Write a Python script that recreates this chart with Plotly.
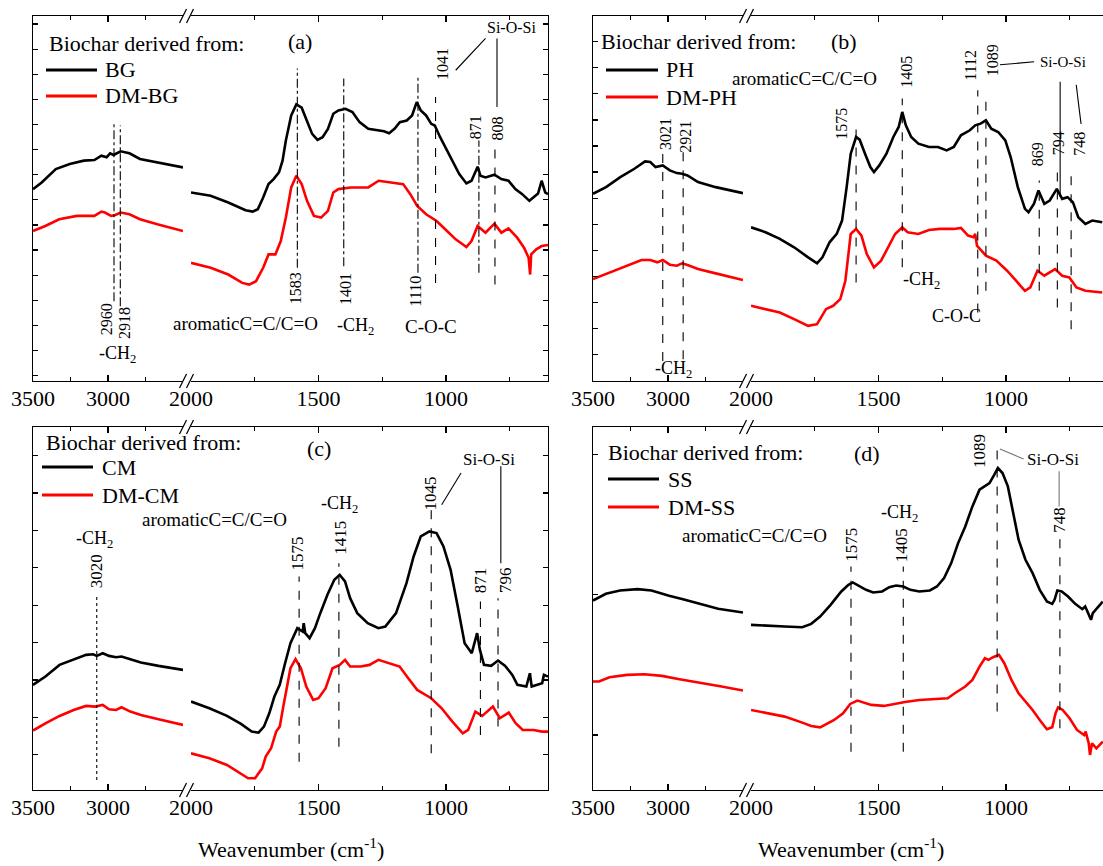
import plotly.graph_objects as go

# ---------------- data: wavenumber (cm-1) and intensity (arbitrary units) ----------------
# Panel (a)
a_bg_wn = [3500, 3442, 3348, 3255, 3161, 3091, 3044, 3009, 2986, 2963, 2916, 2857, 2787, 2671, 2500,
           2000, 1923, 1854, 1786, 1758, 1738, 1717, 1696, 1676, 1655, 1641, 1628, 1607, 1587, 1566, 1545,
           1525, 1504, 1484, 1463, 1442, 1422, 1394, 1367, 1339, 1305, 1271, 1243, 1223, 1202, 1181, 1154,
           1133, 1115, 1099, 1078, 1058, 1044, 1023, 1003, 975, 948, 920, 900, 876, 865, 845, 810, 783,
           755, 728, 701, 673, 659, 639, 625, 611, 600]
a_bg_abs = [573, 593, 633, 648, 658, 660, 673, 668, 680, 675, 686, 680, 663, 653, 638,
            563, 553, 533, 510, 506, 513, 548, 588, 603, 623, 658, 718, 793, 826, 816, 778,
            738, 720, 728, 753, 798, 808, 813, 803, 773, 753, 748, 746, 740, 753, 773, 778,
            793, 833, 808, 793, 768, 763, 728, 698, 658, 618, 590, 598, 640, 613, 608, 616, 603,
            598, 573, 558, 538, 548, 560, 598, 563, 558]
a_dmbg_wn = [3500, 3418, 3325, 3208, 3091, 3044, 3021, 2979, 2951, 2916, 2857, 2787, 2671, 2500,
             2000, 1923, 1854, 1799, 1772, 1745, 1717, 1696, 1669, 1648, 1628, 1607, 1587, 1566, 1545,
             1518, 1490, 1463, 1442, 1422, 1374, 1305, 1264, 1209, 1168, 1140, 1113, 1078, 1037, 996,
             962, 920, 900, 876, 845, 810, 783, 755, 721, 694, 676, 670, 666, 646, 625, 600]
a_dmbg_abs = [448, 463, 483, 493, 493, 506, 503, 493, 496, 503, 498, 483, 468, 448,
              353, 338, 318, 293, 288, 298, 338, 378, 378, 418, 488, 578, 613, 588, 538,
              493, 488, 508, 563, 573, 578, 578, 598, 593, 588, 558, 523, 498, 478, 448,
              423, 400, 418, 463, 443, 470, 443, 456, 428, 398, 368, 318, 378, 393, 403, 406]

# Panel (b)
b_ph_wn = [3500, 3413, 3318, 3224, 3153, 3118, 3083, 3035, 2988, 2941, 2906, 2870, 2800, 2682, 2500,
           2000, 1943, 1887, 1831, 1776, 1741, 1720, 1692, 1664, 1643, 1625, 1609, 1588, 1574, 1553,
           1532, 1518, 1497, 1469, 1442, 1421, 1407, 1393, 1372, 1344, 1302, 1267, 1233, 1205, 1177,
           1142, 1121, 1100, 1079, 1058, 1031, 1003, 982, 954, 926, 912, 891, 873, 850, 829, 801,
           780, 759, 738, 717, 689, 662, 623]
b_ph_abs = [560, 580, 610, 635, 657, 655, 640, 645, 630, 622, 620, 615, 595, 580, 562,
            460, 445, 425, 400, 370, 352, 370, 415, 440, 480, 580, 680, 730, 722, 680,
            640, 625, 645, 680, 730, 760, 805, 765, 730, 710, 700, 700, 690, 700, 735,
            750, 765, 770, 780, 755, 745, 720, 670, 580, 515, 505, 530, 570, 530, 540, 575,
            545, 550, 535, 490, 470, 480, 475]
b_dmph_wn = [3500, 3389, 3271, 3177, 3118, 3071, 3035, 2988, 2941, 2906, 2870, 2800, 2682, 2500,
             2000, 1943, 1887, 1831, 1776, 1741, 1706, 1678, 1650, 1630, 1609, 1588, 1567, 1546,
             1518, 1490, 1462, 1435, 1407, 1386, 1344, 1302, 1260, 1205, 1177, 1149, 1128, 1121,
             1114, 1079, 1038, 996, 961, 926, 905, 877, 850, 808, 780, 752, 724, 689, 623]
b_dmph_abs = [305, 325, 345, 362, 362, 355, 362, 348, 345, 352, 347, 335, 322, 302,
              225, 215, 205, 185, 165, 170, 215, 225, 245, 300, 440, 455, 435, 380,
              340, 360, 400, 440, 460, 445, 440, 452, 455, 455, 458, 435, 430, 440,
              405, 375, 360, 330, 300, 270, 280, 330, 315, 335, 315, 310, 280, 270, 265]

# Panel (c)
c_cm_wn = [3500, 3417, 3323, 3229, 3146, 3099, 3075, 3035, 2993, 2946, 2910, 2851, 2781, 2663, 2500,
           2000, 1928, 1859, 1804, 1762, 1735, 1714, 1693, 1673, 1652, 1631, 1610, 1583, 1562, 1558,
           1552, 1535, 1514, 1493, 1465, 1438, 1417, 1396, 1376, 1348, 1307, 1265, 1238, 1196, 1155,
           1127, 1099, 1065, 1037, 1010, 982, 954, 927, 899, 878, 867, 851, 823, 796, 768, 740, 720,
           685, 671, 664, 623, 616, 600]
c_cm_abs = [315, 340, 375, 392, 405, 407, 402, 410, 402, 398, 400, 392, 382, 372, 360,
            265, 245, 222, 198, 175, 172, 190, 230, 280, 315, 380, 440, 485, 475, 500,
            470, 455, 485, 530, 585, 630, 645, 625, 575, 530, 500, 485, 490, 530, 620,
            700, 760, 775, 770, 730, 660, 550, 440, 410, 470, 420, 375, 372, 388, 372, 345, 315,
            310, 350, 310, 320, 345, 340]
c_dmcm_wn = [3500, 3417, 3323, 3229, 3146, 3087, 3035, 2993, 2946, 2910, 2851, 2781, 2663, 2500,
             2000, 1928, 1859, 1804, 1776, 1749, 1721, 1707, 1686, 1666, 1652, 1638, 1624, 1610,
             1590, 1569, 1548, 1521, 1500, 1472, 1445, 1417, 1396, 1376, 1334, 1300, 1265, 1224,
             1182, 1148, 1113, 1058, 1017, 975, 934, 913, 885, 858, 816, 789, 754, 727, 699, 657,
             623, 600]
c_dmcm_abs = [178, 200, 222, 240, 252, 250, 255, 242, 240, 248, 235, 225, 212, 195,
              110, 95, 75, 50, 35, 35, 65, 100, 125, 175, 190, 250, 310, 365,
              392, 365, 310, 270, 275, 305, 365, 375, 390, 370, 370, 375, 390, 380,
              370, 335, 300, 275, 245, 205, 170, 180, 235, 222, 250, 215, 232, 200, 180, 180,
              175, 175]

# Panel (d)
d_ss_wn = [3500, 3414, 3320, 3203, 3110, 2993, 2900, 2783, 2666, 2500,
           2000, 1938, 1868, 1799, 1764, 1729, 1688, 1646, 1618, 1601, 1576, 1549, 1521, 1486,
           1458, 1431, 1403, 1375, 1340, 1299, 1271, 1243, 1215, 1188, 1160, 1132, 1104, 1083,
           1065, 1046, 1032, 1014, 993, 972, 951, 924, 896, 868, 840, 819, 810, 799, 782, 757,
           729, 701, 690, 681, 667, 660, 639, 621]
d_ss_abs = [568, 588, 598, 602, 598, 582, 572, 557, 543, 532,
            495, 492, 490, 488, 498, 520, 555, 595, 615, 622, 612, 600, 592, 595,
            608, 613, 610, 600, 595, 598, 610, 635, 680, 740, 790, 850, 900, 912,
            920, 945, 965, 950, 910, 830, 750, 690, 650, 600, 565, 558, 570, 598, 595, 580,
            558, 542, 550, 535, 510, 530, 550, 565]
d_dmss_wn = [3500, 3460, 3390, 3273, 3157, 3040, 2923, 2783, 2643, 2500,
             2000, 1938, 1868, 1799, 1764, 1729, 1701, 1674, 1639, 1611, 1583, 1556, 1528, 1479,
             1438, 1396, 1340, 1285, 1229, 1201, 1174, 1160, 1132, 1104, 1083, 1069, 1051, 1028,
             1007, 979, 951, 924, 896, 868, 840, 819, 806, 796, 778, 751, 722, 694, 688, 676,
             671, 663, 646, 621]
d_dmss_abs = [325, 325, 338, 345, 347, 342, 332, 320, 310, 298,
              240, 230, 220, 202, 192, 188, 200, 210, 230, 258, 268, 262, 255, 252,
              258, 264, 270, 272, 275, 290, 305, 310, 330, 370, 395, 390, 398, 405,
              380, 330, 290, 265, 240, 210, 182, 188, 230, 248, 240, 215, 180, 165, 175, 140,
              105, 140, 125, 145]

# Peak marker lines: wavenumber, lower end, upper end, dash style
a_mark_wn = [2960, 2918, 1583, 1401, 1110, 1041, 871, 808]
a_mark_lo = [238, 223, 338, 343, 323, 293, 323, 288]
a_mark_hi = [768, 763, 933, 903, 908, 848, 718, 698]
a_mark_dash = ["dashdot", "dashdot", "dashdot", "dashdot", "dashdot", "dash", "dashdot", "dash"]

b_mark_wn = [3035, 2899, 1588, 1407, 1111, 1079, 870, 799, 745]
b_mark_lo = [60, 65, 295, 340, 205, 270, 270, 220, 155]
b_mark_hi = [690, 685, 765, 845, 870, 850, 600, 635, 620]
b_mark_dash = ["dash"] * 9

c_mark_wn = [3075, 1576, 1420, 1058, 865, 796]
c_mark_lo = [30, 85, 130, 110, 165, 190]
c_mark_hi = [580, 640, 680, 840, 565, 575]
c_mark_dash = ["dot", "dash", "dash", "dash", "dash", "dash"]

d_mark_wn = [1608, 1403, 1035, 789]
d_mark_lo = [115, 115, 235, 185]
d_mark_hi = [670, 670, 1030, 760]
d_mark_dash = ["dash"] * 4

# Si-O-Si leader lines: (wn0, wn1, y0, y1)
a_lead = [(962, 845, 928, 1023), (800, 800, 818, 1023)]
b_lead = [(1024, 890, 946, 955), (788, 788, 551, 895), (725, 706, 886, 769)]
c_lead = [(1017, 941, 855, 950), (785, 785, 680, 970)]
d_lead = [(1024, 931, 1022, 992), (792, 792, 850, 955)]

# Labels: text, wavenumber, y, angle, font size
CH2 = "-CH<sub>2</sub>"
ARO = "aromaticC=C/C=O"
a_labels = [("2960", 3009, 183, -90, 16), ("2918", 2893, 173, -90, 16), (CH2, 2939, 78, 0, 18),
            ("1583", 1587, 278, -90, 16), ("1401", 1394, 273, -90, 16), ("1110", 1120, 268, -90, 16),
            (ARO, 1786, 173, 0, 19), (CH2, 1353, 163, 0, 18), ("C-O-C", 1060, 163, 0, 19),
            ("1041", 1014, 948, -90, 16), ("871", 886, 758, -90, 16), ("808", 797, 753, -90, 16),
            ("Si-O-Si", 745, 1056, 0, 16)]
b_labels = [("3021", 3017, 740, -90, 16), ("2921", 2882, 730, -90, 16), (CH2, 2965, 35, 0, 18),
            ("1575", 1643, 770, -90, 16), (ARO, 1790, 905, 0, 19), ("1405", 1389, 925, -90, 16),
            ("1112", 1139, 945, -90, 16), ("1089", 1053, 958, -90, 16), (CH2, 1330, 300, 0, 18),
            ("C-O-C", 1194, 195, 0, 18), ("869", 877, 680, -90, 16), ("794", 794, 710, -90, 16),
            ("748", 710, 710, -90, 16), ("Si-O-Si", 776, 955, 0, 15)]
c_labels = [(CH2, 3092, 750, 0, 18), ("3020", 3075, 655, -90, 17),
            (ARO, 1907, 810, 0, 19), (CH2, 1417, 855, 0, 18),
            ("1575", 1583, 710, -90, 17), ("1415", 1417, 755, -90, 17), ("1045", 1061, 890, -90, 17),
            ("Si-O-Si", 830, 990, 0, 17), ("871", 865, 630, -90, 17), ("796", 764, 630, -90, 17)]
d_labels = [(ARO, 1986, 762, 0, 19), (CH2, 1417, 830, 0, 18),
            ("1575", 1604, 735, -90, 17), ("1405", 1410, 735, -90, 17),
            ("1089", 1104, 1015, -90, 17), ("Si-O-Si", 815, 992, 0, 17), ("748", 789, 810, -90, 17)]

left_ticks = [3500, 3000]
left_minor = [3250, 2750]
right_ticks = [2000, 1500, 1000]
right_minor = [1750, 1250, 750]

# ---------------- layout geometry (pixels of the 1103 x 866 page) ----------------
FW, FH = 1103, 866
def px(x):
    return x / FW
def py(y):
    return 1 - y / FH

FONT = '"Liberation Serif", "Times New Roman", Times, "DejaVu Serif", serif'

panels = [
    dict(L=33, top=16, bot=381, ymax=1090, rend=600, rframe=True, tick0=16, dtick=75,
         series=[(a_bg_wn, a_bg_abs, "BG", "#000000"), (a_dmbg_wn, a_dmbg_abs, "DM-BG", "#ff0000")],
         marks=(a_mark_wn, a_mark_lo, a_mark_hi, a_mark_dash), lead=a_lead, labels=a_labels,
         leg=(47, 46, 97, 103, 43, 70, 96), tag="(a)", tagxy=(300, 42), title=False, leadcol="#000000"),
    dict(L=593, top=16, bot=381, ymax=1092, rend=620, rframe=False, tick0=1, dtick=78,
         series=[(b_ph_wn, b_ph_abs, "PH", "#000000"), (b_dmph_wn, b_dmph_abs, "DM-PH", "#ff0000")],
         marks=(b_mark_wn, b_mark_lo, b_mark_hi, b_mark_dash), lead=b_lead, labels=b_labels,
         leg=(599, 606, 658, 664, 42, 70, 97), tag="(b)", tagxy=(844, 42), title=False, leadcol="#000000"),
    dict(L=33, top=427, bot=790, ymax=1088, rend=600, rframe=True, tick0=106, dtick=112,
         series=[(c_cm_wn, c_cm_abs, "CM", "#000000"), (c_dmcm_wn, c_dmcm_abs, "DM-CM", "#ff0000")],
         marks=(c_mark_wn, c_mark_lo, c_mark_hi, c_mark_dash), lead=c_lead, labels=c_labels,
         leg=(44, 42, 93, 100, 443, 467, 495), tag="(c)", tagxy=(319, 449), title=True, leadcol="#000000"),
    dict(L=593, top=427, bot=790, ymax=1088, rend=620, rframe=False, tick0=165, dtick=420,
         series=[(d_ss_wn, d_ss_abs, "SS", "#000000"), (d_dmss_wn, d_dmss_abs, "DM-SS", "#ff0000")],
         marks=(d_mark_wn, d_mark_lo, d_mark_hi, d_mark_dash), lead=d_lead, labels=d_labels,
         leg=(606, 608, 659, 666, 452, 479, 507), tag="(d)", tagxy=(867, 453), title=True, leadcol="#777777"),
]

fig = go.Figure()
layout = {}
shapes = []
annotations = []

def axname(kind, n):
    return f"{kind}axis" if n == 1 else f"{kind}axis{n}"

def axref(kind, n):
    return kind if n == 1 else f"{kind}{n}"

for i, p in enumerate(panels):
    nL, nR = 2 * i + 1, 2 * i + 2
    xL, xR = axref("x", nL), axref("x", nR)
    yL, yR = axref("y", nL), axref("y", nR)
    L = p["L"]
    dom_y = [py(p["bot"]), py(p["top"])]
    domL = [px(L), px(L + 150)]
    domR = [px(L + 158), min(1.0, px(L + 515))]

    common_x = dict(showgrid=False, zeroline=False, showline=True, linecolor="black", linewidth=1.2,
                    mirror="ticks", ticks="inside", ticklen=6, tickwidth=1.2, tickcolor="black",
                    automargin=False,
                    tickfont=dict(family=FONT, size=22, color="black"), ticklabelstandoff=-3)
    layout[axname("x", nL)] = dict(common_x, domain=domL, range=[3500, 2500], anchor=yL,
                                   tickmode="array", tickvals=left_ticks,
                                   minor=dict(tickvals=left_minor, ticks="inside", ticklen=4,
                                              tickcolor="black", tickwidth=1.2))
    layout[axname("x", nR)] = dict(common_x, domain=domR, range=[2000, p["rend"]], anchor=yR,
                                   tickmode="array", tickvals=right_ticks,
                                   minor=dict(tickvals=right_minor, ticks="inside", ticklen=4,
                                              tickcolor="black", tickwidth=1.2))
    common_y = dict(domain=dom_y, range=[0, p["ymax"]], showgrid=False, zeroline=False,
                    showticklabels=False, tick0=p["tick0"], dtick=p["dtick"], tickcolor="black",
                    ticklen=5, tickwidth=1.2, linecolor="black", linewidth=1.2, automargin=False)
    layout[axname("y", nL)] = dict(common_y, anchor=xL, side="left", showline=True, ticks="inside")
    layout[axname("y", nR)] = dict(common_y, anchor=xR, side="right",
                                   showline=p["rframe"], ticks="inside" if p["rframe"] else "")

    # spectra
    for wn, ab, name, col in p["series"]:
        lw = [w for w in wn if w >= 2500]
        la = [a for w, a in zip(wn, ab) if w >= 2500]
        rw = [w for w in wn if w <= 2000]
        ra = [a for w, a in zip(wn, ab) if w <= 2000]
        fig.add_trace(go.Scatter(x=lw, y=la, mode="lines", line=dict(color=col, width=2.6),
                                 xaxis=xL, yaxis=yL, showlegend=False, hoverinfo="skip"))
        fig.add_trace(go.Scatter(x=rw, y=ra, mode="lines", line=dict(color=col, width=2.6),
                                 xaxis=xR, yaxis=yR, showlegend=False, hoverinfo="skip", name=name))

    # peak marker lines
    mw, mlo, mhi, mdash = p["marks"]
    for w, lo, hi, ds in zip(mw, mlo, mhi, mdash):
        left = w >= 2500
        fig.add_trace(go.Scatter(x=[w, w], y=[lo, hi], mode="lines",
                                 line=dict(color="black", width=1.1, dash=ds),
                                 xaxis=xL if left else xR, yaxis=yL if left else yR,
                                 showlegend=False, hoverinfo="skip"))
    # Si-O-Si leader lines
    for w0, w1, y0, y1 in p["lead"]:
        fig.add_trace(go.Scatter(x=[w0, w1], y=[y0, y1], mode="lines",
                                 line=dict(color=p["leadcol"], width=1.1),
                                 xaxis=xR, yaxis=yR, showlegend=False, hoverinfo="skip"))
    # labels
    for txt, w, yv, ang, sz in p["labels"]:
        left = w >= 2500
        annotations.append(dict(text=txt, x=w, y=yv, xref=xL if left else xR, yref=yL,
                                showarrow=False, textangle=ang, xanchor="center", yanchor="middle",
                                font=dict(family=FONT, size=sz, color="black")))

    # legend-like block
    tx, lx0, lx1, ltx, ty, y1, y2 = p["leg"]
    annotations.append(dict(text="Biochar derived from:", x=px(tx), y=py(ty), xref="paper", yref="paper",
                            showarrow=False, xanchor="left", yanchor="middle",
                            font=dict(family=FONT, size=22, color="black")))
    for (wn, ab, name, col), yy in zip(p["series"], (y1, y2)):
        shapes.append(dict(type="line", xref="paper", yref="paper", x0=px(lx0), x1=px(lx1),
                           y0=py(yy), y1=py(yy), line=dict(color=col, width=3)))
        annotations.append(dict(text=name, x=px(ltx), y=py(yy), xref="paper", yref="paper",
                                showarrow=False, xanchor="left", yanchor="middle",
                                font=dict(family=FONT, size=22, color="black")))
    tx2, ty2 = p["tagxy"]
    annotations.append(dict(text=p["tag"], x=px(tx2), y=py(ty2), xref="paper", yref="paper",
                            showarrow=False, xanchor="center", yanchor="middle",
                            font=dict(family=FONT, size=22, color="black")))
    if p["title"]:
        annotations.append(dict(text="Weavenumber (cm<sup>-1</sup>)", x=px(L + 258), y=py(848),
                                xref="paper", yref="paper", showarrow=False,
                                xanchor="center", yanchor="middle",
                                font=dict(family=FONT, size=22, color="black")))

    # axis-break marks
    for yb in (p["top"], p["bot"]):
        for xc in (L + 150, L + 157):
            shapes.append(dict(type="line", xref="paper", yref="paper",
                               x0=px(xc - 3.5), x1=px(xc + 3.5), y0=py(yb + 7), y1=py(yb - 7),
                               line=dict(color="black", width=1.2)))

layout.update(dict(width=FW, height=FH, autosize=False,
                   margin=dict(l=0, r=0, t=0, b=0, pad=0, autoexpand=False),
                   paper_bgcolor="white", plot_bgcolor="white", showlegend=False,
                   shapes=shapes, annotations=annotations,
                   font=dict(family=FONT, color="black")))
fig.update_layout(**layout)
fig.write_html("out.html",
               config={"displayModeBar": False, "staticPlot": True},
               post_script="document.body.style.margin='0px';document.body.style.overflow='hidden';")
